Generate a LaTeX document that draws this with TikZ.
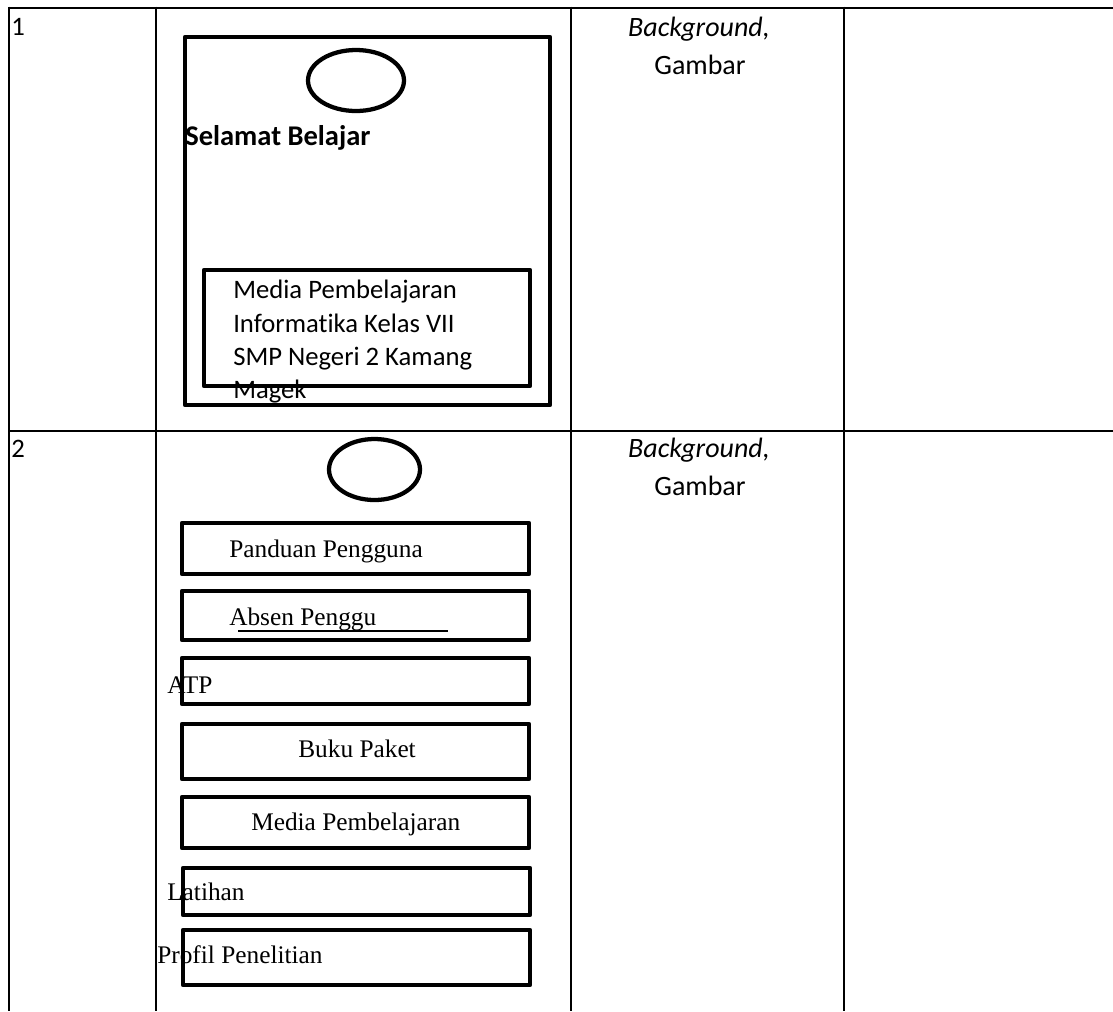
\documentclass[tikz,border=0pt]{standalone}
\usepackage{fontspec}
\setmainfont{Carlito}[Ligatures={NoCommon}]
\newfontfamily\serifA{Liberation Serif}
\usetikzlibrary{shapes.geometric}
\begin{document}
\begin{tikzpicture}[x=0.75pt,y=-0.75pt,
  grid/.style={line width=1.5pt},
  tbox/.style={draw, rectangle, line width=3.2pt, line join=round, inner sep=0pt},
  oval/.style={draw, ellipse, line width=3.2pt, inner sep=0pt},
  lbl/.style={anchor=base west, inner sep=0pt, font=\fontsize{20}{24}\selectfont},
  slbl/.style={anchor=base west, inner sep=0pt, font=\serifA\fontsize{19}{23}\selectfont},
  clbl/.style={anchor=base, inner sep=0pt, font=\fontsize{21}{25}\selectfont}]
\useasboundingbox (0,0) rectangle (1113,1011);
% table grid
\draw[grid] (8,7.5) -- (1113,7.5);
\draw[grid] (8,431) -- (1113,431);
\draw[grid] (9,6.5) -- (9,1011);
\draw[grid] (156,6.5) -- (156,1011);
\draw[grid] (571,6.5) -- (571,1011);
\draw[grid] (844,6.5) -- (844,1011);
% row numbers
\node[lbl] (n1) at (11,35) {1};
\node[lbl] (n2) at (11,457) {2};
% column 3 texts
\node[clbl] (bg1) at (699,36) {\itshape Background,};
\node[clbl] (gb1) at (700,74) {Gambar};
\node[clbl] (bg2) at (699,457) {\itshape Background,};
\node[clbl] (gb2) at (700,495) {Gambar};
% phone 1 texts
\node[lbl, font=\bfseries\fontsize{21.4}{25}\selectfont] (sel) at (185,145) {Selamat Belajar};
\node[lbl] (m1) at (233,298) {Media Pembelajaran};
\node[lbl] (m2) at (233,332) {Informatika Kelas VII};
\node[lbl] (m3) at (233,365) {SMP Negeri 2 Kamang};
\node[lbl] (m4) at (233,398) {Magek};
% phone 1 shapes
\node[tbox, minimum width=273.75pt, minimum height=276pt] (ph1) at (367.5,221) {};
\node[oval, minimum width=72pt, minimum height=45.75pt] (ov1) at (356,80.5) {};
\node[tbox, minimum width=244.5pt, minimum height=87pt] (ib1) at (367,328) {};
% phone 2 texts
\node[slbl] (t1) at (229,557) {Panduan Pengguna};
\node[slbl] (t2) at (229,625) {Absen Penggu};
\coordinate (u1) at (238,631);
\coordinate (u2) at (448,631);
\draw[line width=1.5pt] (u1) -- (u2);
\node[slbl] (t3) at (167,693) {ATP};
\node[slbl] (t4) at (298,757) {Buku Paket};
\node[slbl] (t5) at (251,830) {Media Pembelajaran};
\node[slbl] (t6) at (167,900) {Latihan};
\node[slbl] (t7) at (157,963) {Profil Penelitian};
% phone 2 shapes
\node[oval, minimum width=68.25pt, minimum height=45.75pt] (ov2) at (374.5,469.5) {};
\node[tbox, minimum width=260.25pt, minimum height=38.25pt] (b1) at (355.5,548.5) {};
\node[tbox, minimum width=260.25pt, minimum height=36.75pt] (b2) at (355.5,615.5) {};
\node[tbox, minimum width=260.25pt, minimum height=34.5pt] (b3) at (355.5,681) {};
\node[tbox, minimum width=260.25pt, minimum height=41.25pt] (b4) at (355.5,751.5) {};
\node[tbox, minimum width=260.25pt, minimum height=38.25pt] (b5) at (355.5,822.5) {};
\node[tbox, minimum width=260.25pt, minimum height=35.25pt] (b6) at (356.5,891.5) {};
\node[tbox, minimum width=260.25pt, minimum height=41.25pt] (b7) at (356.5,957.5) {};
\end{tikzpicture}
\end{document}
